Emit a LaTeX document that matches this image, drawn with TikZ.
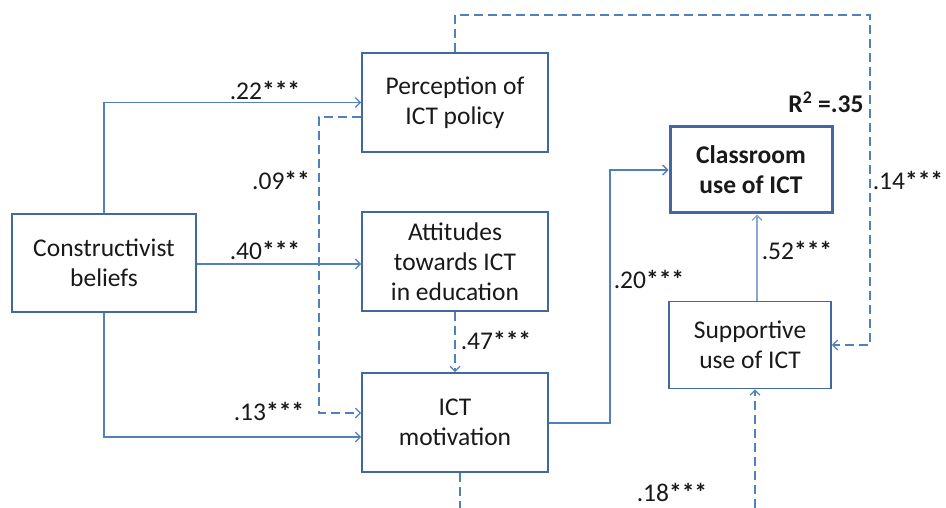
\documentclass[tikz,border=0pt]{standalone}
\usepackage{fontspec}
\setmainfont{Carlito}
\usetikzlibrary{arrows.meta,calc}
\definecolor{lineblue}{RGB}{79,129,189}
\definecolor{boxblue}{RGB}{68,104,158}
\definecolor{lightblue}{RGB}{137,167,208}
\definecolor{txt}{RGB}{25,25,25}
\newcommand{\stars}[1]{\textbf{#1}}
\begin{document}
\begin{tikzpicture}[x=1pt,y=-1pt,
  every node/.style={text=txt,font=\fontsize{25.5}{30}\selectfont},
  varbox/.style={draw=boxblue,line width=1.6pt,align=center,inner sep=0pt},
  conn/.style={draw=lineblue,line width=1.6pt,-{Straight Barb[length=5pt,width=10pt,line width=1.3pt]}},
  dconn/.style={conn,dash pattern=on 9pt off 5pt},
  coef/.style={inner sep=0pt}]
\useasboundingbox (0,0) rectangle (946,508);
\node[varbox,minimum width=184pt,minimum height=98pt] (cb) at (104,263) {Constructivist\\beliefs};
\node[varbox,minimum width=186pt,minimum height=99pt] (pp) at (455,102.5) {Perception of\\ICT policy};
\node[varbox,minimum width=186pt,minimum height=99pt] (at) at (455,261.5) {Attitudes\\towards ICT\\in education};
\node[varbox,minimum width=186pt,minimum height=99pt] (mo) at (455,422.5) {ICT\\motivation};
\node[varbox,line width=3pt,minimum width=162pt,minimum height=86pt,font=\fontsize{25.5}{30}\selectfont\bfseries] (cl) at (751,170) {Classroom\\use of ICT};
\node[varbox,minimum width=162pt,minimum height=87pt] (su) at (750,345) {Supportive\\use of ICT};
\coordinate (tr) at (870,15);
\coordinate (bm) at (460,508);
\coordinate (b18) at (755,508);
% solid paths
\draw[conn] (cb.north) |- (pp.west);
\draw[conn] ([yshift=-1pt]cb.east) -- ([yshift=-1pt]cb.east -| at.west);
\draw[conn] (cb.south) |- ([yshift=-14.5pt]mo.west);
\draw[conn] ([yshift=-0.5pt]mo.east) -- ++(61,0) |- (cl.west);
\draw[conn,draw=lightblue,line width=2.2pt] ([xshift=7pt]su.north) -- ([xshift=7pt]su.north |- cl.south);
% dashed paths
\draw[dconn] ([yshift=-14.5pt]pp.west) -- ++(-42,0) |- ([yshift=9.5pt]mo.west);
\draw[dconn] (at.south) -- (mo.north);
\draw[dconn] (pp.north) |- (tr) |- (su.east);
\draw[dconn,-] ([xshift=5pt]mo.south) -- (bm);
\draw[dconn] (b18) -- (b18 |- su.south);
% labels
\node[coef] (l22) at (265,90) {.22\stars{***}};
\node[coef] (l40) at (265,250) {.40\stars{***}};
\node[coef] (l09) at (281,180) {.09\stars{**}};
\node[coef] (l13) at (269,411) {.13\stars{***}};
\node[coef] (l47) at (496,340) {.47\stars{***}};
\node[coef] (l20) at (649,279) {.20\stars{***}};
\node[coef] (l52) at (797,250) {.52\stars{***}};
\node[coef] (l14) at (908,180) {.14\stars{***}};
\node[coef] (l18) at (672,492) {.18\stars{***}};
\node[coef,font=\fontsize{25.5}{30}\selectfont\bfseries] (r2) at (826,102) {R\textsuperscript{2} =.35};
\end{tikzpicture}
\end{document}
